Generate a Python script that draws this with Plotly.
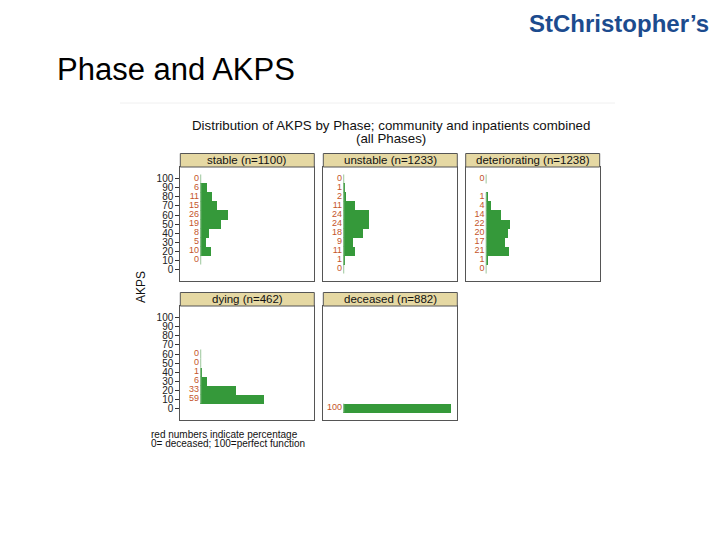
import plotly.graph_objects as go

# ---------------- data ----------------
akps = [100, 90, 80, 70, 60, 50, 40, 30, 20, 10, 0]
stable = [0, 6, 11, 15, 26, 19, 8, 5, 10, 0, None]
unstable = [0, 1, 2, 11, 24, 24, 18, 9, 11, 1, 0]
deteriorating = [0, None, 1, 4, 14, 22, 20, 17, 21, 1, 0]
dying = [None, None, None, None, 0, 0, 1, 6, 33, 59, None]
deceased = [None, None, None, None, None, None, None, None, None, None, 100]

panel_names = ["stable (n=1100)", "unstable (n=1233)", "deteriorating (n=1238)",
               "dying (n=462)", "deceased (n=882)"]
panel_values = [stable, unstable, deteriorating, dying, deceased]
y_ticks = [0, 10, 20, 30, 40, 50, 60, 70, 80, 90, 100]

# ---------------- style ----------------
OFF = 8  # page body margin
W, H = 720 - OFF, 540 - OFF
BAR = "#35993a"
LBL = "#c4552b"
STRIP = "#e5d8a3"
BORDER = "#555555"
FONT = "Liberation Sans, Arial, sans-serif"


def fx(x):
    return (x - OFF) / W


def fy(y):
    return 1 - (y - OFF) / H


cols = [(180.3, 314.3), (323.3, 457.3), (465.7, 599.7)]
rows = [((153.5, 167), (167, 281)), ((292.5, 306), (306, 420))]
positions = [(0, 0), (0, 1), (0, 2), (1, 0), (1, 1)]

fig = go.Figure()
shapes = []
annotations = []

for i, (name, vals) in enumerate(zip(panel_names, panel_values)):
    r, c = positions[i]
    (hx0, hx1) = cols[c]
    (strip_y, body_y) = rows[r]
    idx = "" if i == 0 else str(i + 1)
    xa = "x" + idx
    ya = "y" + idx

    ys = [a for a, v in zip(akps, vals) if v is not None]
    xs = [v for v in vals if v is not None]

    # bars
    fig.add_trace(go.Bar(x=xs, y=ys, orientation="h", width=10,
                         marker=dict(color=BAR, line=dict(width=0)),
                         xaxis=xa, yaxis=ya, showlegend=False, hoverinfo="skip"))
    # thin zero lines (zero-width bars outline)
    lx, ly = [], []
    for a in ys:
        lx += [0, 0, None]
        ly += [a + 5, a - 5, None]
    fig.add_trace(go.Scatter(x=lx, y=ly, mode="lines",
                             line=dict(color="#9cc79c", width=1),
                             xaxis=xa, yaxis=ya, showlegend=False, hoverinfo="skip"))
    # value labels
    fig.add_trace(go.Scatter(x=[-1.5] * len(ys), y=ys, mode="text",
                             text=[str(v) for v in xs], textposition="middle left",
                             textfont=dict(color=LBL, size=9, family=FONT),
                             xaxis=xa, yaxis=ya, showlegend=False, hoverinfo="skip"))

    show_y = (c == 0)
    fig.layout[("xaxis" + idx)] = dict(
        domain=[fx(hx0), fx(hx1)], range=[-19, 105.6], anchor=ya,
        showgrid=False, zeroline=False, showticklabels=False, ticks="",
        showline=True, mirror=True, linecolor=BORDER, linewidth=1, fixedrange=True)
    fig.layout[("yaxis" + idx)] = dict(
        domain=[fy(body_y[1]), fy(body_y[0])], range=[-13.3, 113.3], anchor=xa,
        showgrid=False, zeroline=False, tickvals=y_ticks,
        showticklabels=show_y, ticks="outside" if show_y else "", ticklen=4,
        tickcolor="#333333", tickfont=dict(size=10, color="#222222", family=FONT),
        showline=True, mirror=True, linecolor=BORDER, linewidth=1, fixedrange=True)

    # strip header
    shapes.append(dict(type="rect", xref="paper", yref="paper",
                       x0=fx(hx0), x1=fx(hx1), y0=fy(strip_y[1]), y1=fy(strip_y[0]),
                       fillcolor=STRIP, line=dict(color=BORDER, width=1), layer="above"))
    annotations.append(dict(text=name, xref="paper", yref="paper",
                            x=fx((hx0 + hx1) / 2), y=fy((strip_y[0] + strip_y[1]) / 2),
                            xanchor="center", yanchor="middle", showarrow=False,
                            font=dict(size=11.5, color="#111111", family=FONT)))

# faint frame line of the embedded chart
shapes.append(dict(type="line", xref="paper", yref="paper",
                   x0=fx(120), x1=fx(615), y0=fy(103), y1=fy(103),
                   line=dict(color="#f0f0f0", width=1)))

# texts
annotations += [
    dict(text="Phase and AKPS", xref="paper", yref="paper", x=fx(55), y=fy(70),
         xanchor="left", yanchor="middle", showarrow=False,
         font=dict(size=31, color="#000000", family=FONT)),
    dict(text="<b>StChristopher\u2019s</b>", xref="paper", yref="paper", x=fx(711), y=fy(23),
         xanchor="right", yanchor="middle", showarrow=False,
         font=dict(size=24, color="#1c4b8e", family=FONT)),
    dict(text="Distribution of AKPS by Phase; community and inpatients combined",
         xref="paper", yref="paper", x=fx(391), y=fy(126), xanchor="center", yanchor="middle",
         showarrow=False, font=dict(size=13.3, color="#111111", family=FONT)),
    dict(text="(all Phases)", xref="paper", yref="paper", x=fx(391), y=fy(139),
         xanchor="center", yanchor="middle", showarrow=False,
         font=dict(size=13.3, color="#111111", family=FONT)),
    dict(text="AKPS", xref="paper", yref="paper", x=fx(141), y=fy(287), textangle=-90,
         xanchor="center", yanchor="middle", showarrow=False,
         font=dict(size=12, color="#111111", family=FONT)),
    dict(text="red numbers indicate percentage", xref="paper", yref="paper",
         x=fx(149), y=fy(434), xanchor="left", yanchor="middle", showarrow=False,
         font=dict(size=10, color="#111111", family=FONT)),
    dict(text="0= deceased; 100=perfect function", xref="paper", yref="paper",
         x=fx(149), y=fy(443.5), xanchor="left", yanchor="middle", showarrow=False,
         font=dict(size=10, color="#111111", family=FONT)),
]

fig.update_layout(width=W, height=H, margin=dict(l=0, r=0, t=0, b=0),
                  paper_bgcolor="white", plot_bgcolor="white",
                  shapes=shapes, annotations=annotations, bargap=0,
                  font=dict(family=FONT))

fig.write_html("out.html")
